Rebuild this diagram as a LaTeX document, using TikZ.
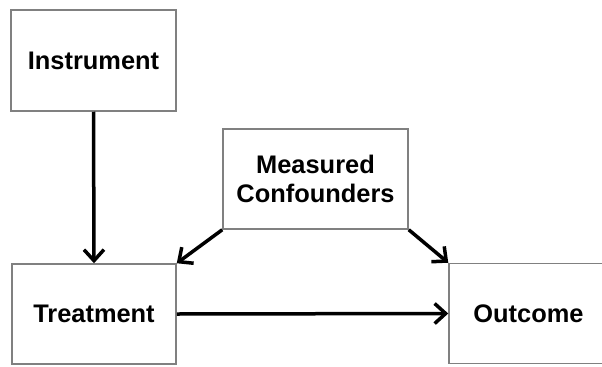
\documentclass[tikz,border=0pt]{standalone}
\usepackage{fontspec}
\setmainfont{Liberation Sans}
\usetikzlibrary{arrows.meta, positioning}
\definecolor{garisabu}{RGB}{128,128,128}

\begin{document}
\begin{tikzpicture}[x=1bp, y=1bp,
    kotak/.style={draw=garisabu, line width=1.5bp, fill=white, align=center,
      font=\bfseries\fontsize{25.5}{28.5}\selectfont, inner sep=0pt},
    panah/.style={draw=black, line width=3.5bp, -{Straight Barb[length=11bp, width=20bp, line width=3.5bp]}}]
    \clip (0,0) rectangle (602,366);
    \useasboundingbox (0,0) rectangle (602,366);
    \node[kotak, minimum width=165bp, minimum height=101bp] (instr) at (93.5,305.5) {Instrument};
    \node[kotak, minimum width=185bp, minimum height=100bp] (conf) at (315.5,187) {Measured\\Confounders};
    \node[kotak, minimum width=164bp, minimum height=100bp] (treat) at (94,52) {Treatment};
    \node[kotak, minimum width=159bp, minimum height=100bp] (outc) at (528.5,52.5) {Outcome};
    \draw[panah] (instr.south) -- (treat.north);
    \draw[panah] (conf.south west) -- (treat.north east);
    \draw[panah] (conf.south east) -- (outc.north west);
    \draw[panah] (treat.east) -- (outc.west);
\end{tikzpicture}
\end{document}
